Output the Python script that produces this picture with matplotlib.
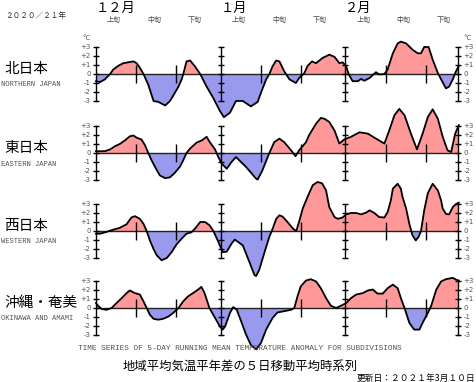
import matplotlib
matplotlib.use("Agg")
import matplotlib.pyplot as plt
import matplotlib.transforms as mtransforms
import numpy as np

plt.rcParams["font.family"] = ["Noto Sans CJK JP", "DejaVu Sans"]

# days counted from Dec 1 (0) to Mar 1 (90)
month_starts = [0, 31, 62, 90]
month_labels = ["１２月", "１月", "２月"]
dekad_marks = [10, 20, 41, 51, 72, 82]
dekad_labels = ["上旬", "中旬", "下旬"]

region_names = ["北日本", "東日本", "西日本", "沖縄・奄美"]
region_names_en = ["NORTHERN JAPAN", "EASTERN JAPAN", "WESTERN JAPAN", "OKINAWA AND AMAMI"]

north_days = [0, 1.0, 2.2, 3.5, 4.3, 5.5, 6.8, 8.0, 9.3, 10.1, 10.9, 11.8, 13.0, 14.3, 15.5,
              17.2, 18.4, 19.6, 20.5, 21.3, 21.7, 22.5, 23.4, 24.6, 25.9, 27.5, 29.2, 30.8,
              31.8, 33.3, 34.8, 36.5, 38.5, 40.2, 41.0, 42.3, 43.1, 43.9, 44.8, 45.6, 46.8,
              48.1, 49.7, 50.5, 51.8, 52.6, 53.7, 54.7, 56.4, 58.0, 59.3, 60.5, 61.3, 62.2,
              62.8, 63.8, 65.1, 65.9, 66.7, 68.0, 69.6, 70.4, 71.7, 72.5, 73.8, 75.0, 75.8,
              77.1, 78.7, 80.0, 80.8, 81.6, 82.7, 83.7, 85.0, 85.8, 87.0, 87.8, 88.7, 89.5, 90.2]
north_vals = [-0.8, -0.9, -0.6, 0.0, 0.5, 0.9, 1.2, 1.3, 1.4, 1.2, 0.7, 0.0, -1.2, -3.0, -3.1,
              -3.5, -3.0, -2.1, -1.4, -0.6, 0.0, 1.4, 1.5, 0.85, 0.0, -1.4, -2.7, -4.1,
              -4.8, -4.3, -3.0, -3.0, -3.6, -3.1, -2.1, -0.6, 0.0, 0.85, 1.5, 1.4, 0.3,
              -0.6, -1.0, -0.45, 0.1, 0.9, 1.4, 1.2, 1.8, 2.15, 1.9, 1.2, 1.3, 0.85,
              0.0, -0.8, -0.8, -0.55, -0.75, -0.45, 0.2, -0.05, 0.0, 0.5, 2.3, 3.4, 3.6,
              3.4, 2.7, 2.3, 2.3, 3.0, 3.0, 1.6, 0.1, -0.6, -1.6, -1.4, -0.6, 0.3, 0.9]

east_days = [0, 2.2, 3.5, 4.7, 5.9, 7.2, 8.4, 9.3, 10.1, 11.3, 12.2, 13.0, 13.8, 15.1, 15.9,
             17.2, 18.4, 19.6, 20.9, 21.7, 22.5, 23.4, 25.0, 26.3, 27.5, 28.3, 29.6, 30.4,
             31.3, 32.5, 33.7, 34.8, 37.3, 39.8, 40.2, 41.4, 43.1, 44.3, 45.6, 46.8, 48.5,
             49.6, 50.5, 52.2, 53.0, 54.7, 55.9, 56.8, 58.0, 59.3, 60.5, 61.7, 63.4, 65.5,
             67.6, 69.6, 71.7, 72.9, 74.2, 75.4, 76.7, 78.3, 79.8, 81.2, 82.5, 83.7, 85.0,
             86.2, 87.4, 88.3, 89.3, 90.2]
east_vals = [0.2, 0.2, 0.4, 0.75, 1.0, 1.4, 1.85, 1.95, 1.7, 1.5, 0.85, 0.0, -0.8, -1.9, -2.5,
             -2.8, -2.7, -2.2, -1.5, -0.8, 0.0, 0.5, 1.15, 1.4, 1.8, 1.2, 0.4, -0.45,
             -1.2, -1.75, -1.0, -0.45, -1.55, -2.85, -2.95, -1.9, 0.0, 1.2, 1.6, 1.2, 0.3,
             -0.35, 0.3, 1.2, 2.0, 3.25, 3.9, 3.8, 3.45, 2.5, 1.05, 1.5, 1.8, 2.3,
             2.15, 1.6, 1.05, 2.5, 4.2, 4.9, 4.2, 2.15, 0.4, 2.15, 4.0, 4.85, 3.8,
             1.8, 0.3, 0.1, 2.15, 3.1]

west_days = [0, 1.0, 2.6, 4.3, 5.9, 7.6, 8.8, 9.7, 10.9, 11.8, 12.6, 13.4, 14.3, 15.1, 16.3,
             17.6, 18.8, 20.0, 21.3, 22.5, 23.7, 24.6, 25.9, 27.1, 28.2, 29.2, 30.4, 31.5,
             32.5, 33.7, 34.5, 36.5, 38.1, 39.4, 39.8, 40.6, 41.8, 43.1, 43.7, 44.8, 45.6,
             46.4, 47.6, 49.0, 49.8, 50.6, 51.4, 52.6, 53.9, 55.1, 56.2, 57.2, 58.0, 59.3,
             60.1, 61.3, 62.2, 63.4, 64.7, 65.9, 67.2, 68.0, 69.2, 70.4, 71.7, 72.5, 73.3,
             73.8, 75.0, 75.8, 76.2, 77.1, 77.9, 78.7, 79.5, 80.2, 80.8, 81.6, 82.5, 83.7,
             85.0, 85.8, 86.2, 87.0, 87.8, 88.7, 89.5, 90.2]
west_vals = [-0.3, -0.3, -0.1, 0.15, 0.35, 0.75, 1.5, 1.65, 1.35, 0.8, 0.0, -1.05, -2.0, -2.7, -3.25,
             -3.0, -2.35, -1.5, -0.85, -0.3, -0.15, 0.25, 1.0, 1.0, 0.65, 0.0, -1.2, -2.35,
             -2.3, -1.4, -0.95, -1.6, -3.4, -4.9, -5.0, -4.3, -2.5, -0.65, 0.0, 1.35, 1.75,
             1.6, 1.0, 0.25, 0.0, 1.2, 2.5, 3.8, 5.1, 5.45, 5.3, 4.5, 2.65, 1.55,
             1.35, 1.5, 1.85, 2.0, 2.0, 1.85, 2.05, 2.3, 2.0, 1.55, 1.5, 2.1, 3.4,
             4.7, 5.25, 4.7, 3.8, 2.5, 0.8, -0.5, -1.05, -0.65, 0.0, 2.3, 4.2, 5.25,
             4.5, 3.4, 2.5, 1.9, 1.85, 2.65, 3.0, 3.15]

okinawa_days = [0, 0.6, 1.4, 2.6, 3.9, 5.1, 6.4, 7.6, 8.4, 9.7, 10.9, 11.8, 12.6, 13.4, 14.3,
                15.5, 16.7, 18.0, 19.2, 20.5, 21.7, 22.9, 24.1, 25.4, 26.2, 27.0, 28.2, 29.6,
                30.8, 31.5, 32.1, 33.3, 34.1, 35.0, 36.1, 37.3, 38.5, 39.8, 41.0, 42.3, 43.9,
                45.1, 46.8, 48.5, 49.3, 50.1, 50.9, 52.2, 53.4, 54.7, 55.9, 57.2, 58.4, 59.7,
                60.9, 62.2, 63.4, 64.7, 66.3, 67.6, 68.8, 70.0, 71.3, 72.5, 73.8, 75.0, 75.8,
                76.7, 77.9, 79.1, 80.4, 81.2, 82.5, 83.3, 84.6, 85.8, 87.0, 88.7, 89.5, 90.2]
okinawa_vals = [0.55, 0.2, -0.1, -0.2, 0.0, 0.55, 1.1, 1.65, 1.95, 1.65, 1.5, 0.75, 0.0, -0.75, -1.2,
                -1.3, -1.2, -0.95, -0.55, 0.0, 0.75, 1.3, 1.65, 2.05, 2.35, 1.65, 0.0, -1.1,
                -2.05, -2.4, -2.05, -0.55, 0.1, -0.2, -1.5, -2.95, -4.1, -4.6, -3.9, -2.4, -1.1,
                -0.5, -0.35, -0.2, 0.0, 1.3, 2.4, 3.05, 3.2, 2.95, 2.2, 1.1, 0.25, 0.0,
                0.25, 0.55, 1.1, 1.5, 1.65, 1.95, 2.05, 1.6, 1.6, 2.2, 2.6, 2.2, 1.1,
                0.0, -1.65, -2.4, -2.4, -1.65, -0.55, 0.2, 2.05, 2.95, 3.2, 3.35, 3.15, 3.05]

series = [(north_days, north_vals), (east_days, east_vals),
          (west_days, west_vals), (okinawa_days, okinawa_vals)]

W, H = 476, 382
zero_rows = [74, 153, 231, 308]   # pixel row of each panel's zero line
warm = "#ff9999"
cold = "#9999ee"
gray = "#555555"

fig = plt.figure(figsize=(W / 100, H / 100), dpi=100)

axes = []
for i, (days, vals) in enumerate(series):
    ax = fig.add_axes([96 / W, 1 - (zero_rows[i] + 27) / H, 362 / W, 54 / H])
    ax.set_xlim(0, 90)
    ax.set_ylim(-3, 3)
    ax.axis("off")
    ax.patch.set_alpha(0)
    d = np.array(days)
    v = np.array(vals)
    ax.fill_between(d, v, 0, where=v >= 0, interpolate=True, color=warm, lw=0, clip_on=False)
    ax.fill_between(d, v, 0, where=v <= 0, interpolate=True, color=cold, lw=0, clip_on=False)
    ax.axhline(0, color="#222222", lw=1.0, zorder=3)
    ax.plot(d, v, color="black", lw=1.3, clip_on=False, zorder=4)

    # month boundaries: vertical scale bars with a tick at each degree
    for m in month_starts:
        ax.plot([m] * 7, range(-3, 4), color="black", lw=1.0, marker="_", ms=5,
                mew=1.0, clip_on=False, zorder=5)
    # dekad boundaries
    ax.vlines(dekad_marks, -1, 1, color="black", lw=1.0, zorder=5)

    for t in range(-3, 4):
        lab = "0" if t == 0 else f"{t:+d}"
        ax.text(-1.3, t, lab, ha="right", va="center", fontsize=5, color=gray,
                family="DejaVu Sans")
        ax.text(91.3, t, lab, ha="left", va="center", fontsize=5, color=gray,
                family="DejaVu Sans")
    if i == 0:
        ax.text(-1.3, 4.0, "°C", ha="right", va="center", fontsize=5, color=gray,
                family="DejaVu Sans")
        ax.text(91.3, 4.0, "°C", ha="left", va="center", fontsize=5, color=gray,
                family="DejaVu Sans")

    fig.text(4 / W, 1 - (zero_rows[i] - 5) / H, region_names[i], fontsize=10.5,
             ha="left", va="center")
    fig.text(1 / W, 1 - (zero_rows[i] + 11) / H, region_names_en[i], fontsize=5.1,
             ha="left", va="center", color=gray, family="Liberation Mono")
    axes.append(ax)

top = axes[0]
trans = mtransforms.blended_transform_factory(top.transData, fig.transFigure)
for m, lab in zip(month_starts[:-1], month_labels):
    top.text(m, 1 - 8 / H, lab, transform=trans, ha="left", va="center", fontsize=9.5)
    for k, dl in enumerate(dekad_labels):
        top.text(m + 4.5 + 10 * k, 1 - 20 / H, dl, transform=trans, ha="center",
                 va="center", fontsize=5, color="#444444")

fig.text(5 / W, 1 - 16 / H, "２０２０／２１年", fontsize=5.5, ha="left", va="center",
         color="#333333")

fig.text(240 / W, 1 - 348 / H,
         "TIME SERIES OF 5-DAY RUNNING MEAN TEMPERATURE ANOMALY FOR SUBDIVISIONS",
         fontsize=5.6, ha="center", va="center", color=gray, family="Liberation Mono")
fig.text(240 / W, 1 - 366 / H, "地域平均気温平年差の５日移動平均時系列",
         fontsize=8.9, ha="center", va="center")
fig.text(475 / W, 1 - 378 / H, "更新日：２０２１年3月１０日",
         fontsize=6.3, ha="right", va="center")

fig.savefig("out.png", dpi=100)
